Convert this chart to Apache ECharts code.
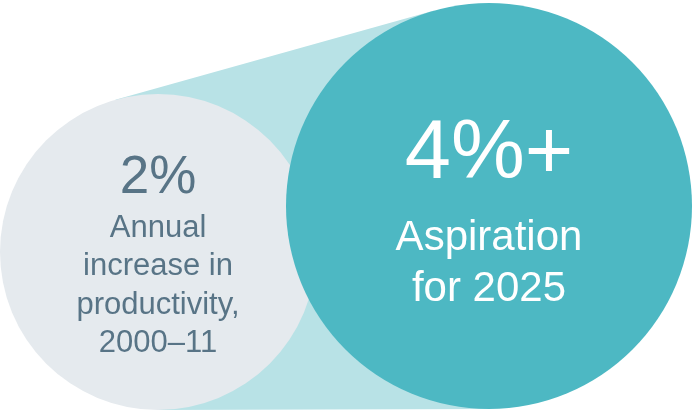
<!DOCTYPE html>
<html>
<head>
<meta charset="utf-8">
<script src="https://cdn.jsdelivr.net/npm/echarts@6/dist/echarts.min.js"></script>
<style>
  html, body { margin: 0; padding: 0; background: #ffffff; }
  #chart { width: 697px; height: 411px; }
</style>
</head>
<body>
<div id="chart"></div>
<script>
// Productivity growth: historical rate vs. target
const values = [2, 4];
const valueLabels = ['2%', '4%+'];
const captions = [
  ['Annual', 'increase in', 'productivity,', '2000–11'],
  ['Aspiration', 'for 2025']
];

const FONT = '"Liberation Sans", Arial, Helvetica, sans-serif';

// Bubble layout (center, radius, text placement) for each item
const layout = [
  {
    cx: 158, cy: 252, r: 158,
    fill: '#e5eaee', color: '#587486',
    valueSize: 53, valueBase: -55,
    capSize: 31, capBase: -13, capLine: 38.4
  },
  {
    cx: 489, cy: 206, r: 203,
    fill: '#4db8c3', color: '#ffffff',
    valueSize: 83, valueBase: -22,
    capSize: 42, capBase: 47, capLine: 51
  }
];

// Outer tangent points between two circles (the connecting band)
function tangentBand(a, b) {
  const dx = b.cx - a.cx, dy = b.cy - a.cy;
  const d = Math.sqrt(dx * dx + dy * dy);
  const ux = dx / d, uy = dy / d;
  const c = (a.r - b.r) / d;
  const s = Math.sqrt(Math.max(0, 1 - c * c));
  const pts = [];
  [-1, 1].forEach(function (sign) {
    const px = sign * -uy, py = sign * ux;
    const nx = ux * c + px * s, ny = uy * c + py * s;
    pts.push([[a.cx + a.r * nx, a.cy + a.r * ny], [b.cx + b.r * nx, b.cy + b.r * ny]]);
  });
  return [pts[0][0], pts[0][1], pts[1][1], pts[1][0]];
}

function textEl(str, x, baseline, size, color) {
  return {
    type: 'text',
    style: {
      text: str,
      x: x,
      y: baseline - size * 0.345,
      align: 'center',
      verticalAlign: 'middle',
      font: '400 ' + size + 'px ' + FONT,
      fill: color
    }
  };
}

const chart = echarts.init(document.getElementById('chart'), null, { renderer: 'canvas' });

chart.setOption({
  animation: false,
  backgroundColor: '#ffffff',
  series: [{
    type: 'custom',
    coordinateSystem: 'none',
    data: values.map(function (v, i) { return [i, v]; }),
    renderItem: function (params, api) {
      const i = params.dataIndex;
      const L = layout[i];
      const children = [];
      if (i === 0) {
        children.push({
          type: 'polygon',
          shape: { points: tangentBand(layout[0], layout[1]) },
          style: { fill: '#b8e2e6' }
        });
      }
      children.push({
        type: 'circle',
        shape: { cx: L.cx, cy: L.cy, r: L.r },
        style: { fill: L.fill }
      });
      children.push(textEl(valueLabels[i], L.cx, L.cy + L.valueBase, L.valueSize, L.color));
      captions[i].forEach(function (line, k) {
        children.push(textEl(line, L.cx, L.cy + L.capBase + k * L.capLine, L.capSize, L.color));
      });
      return { type: 'group', children: children };
    }
  }]
});
</script>
</body>
</html>
